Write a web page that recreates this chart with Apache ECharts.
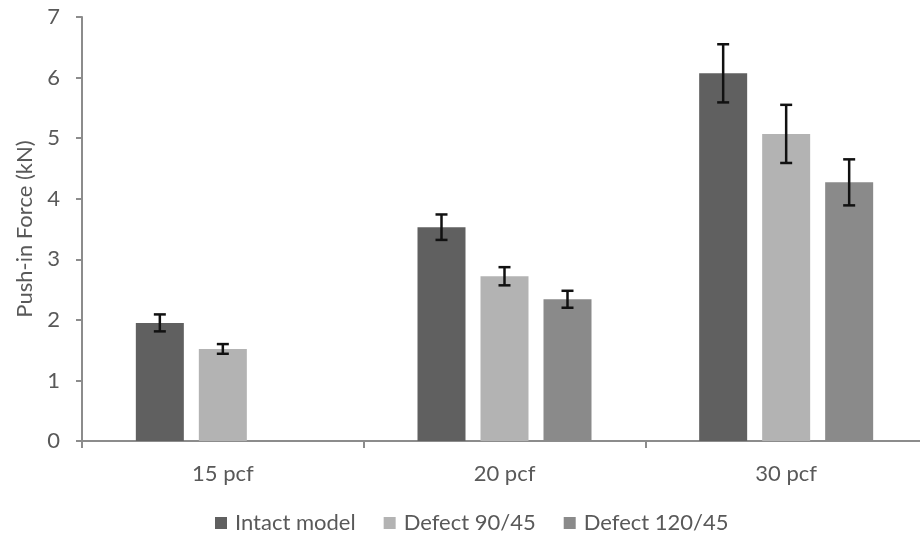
<!DOCTYPE html>
<html>
<head>
<meta charset="utf-8">
<script src="https://cdn.jsdelivr.net/npm/echarts@6/dist/echarts.min.js"></script>
<style>
  html, body { margin: 0; padding: 0; background: #fff; overflow: hidden; }
  /* canvas runs slightly past the right edge so the category axis continues off-frame */
  #chart { width: 930px; height: 540px; }
</style>
</head>
<body>
<div id="chart"></div>
<script>
// Push-in force by foam density, mean ± standard deviation
const categories = ['15 pcf', '20 pcf', '30 pcf'];
const seriesNames = ['Intact model', 'Defect 90/45', 'Defect 120/45'];
const intactMean = [1.95, 3.53, 6.07];
const intactSd = [0.14, 0.21, 0.48];
const defect90Mean = [1.52, 2.72, 5.07];
const defect90Sd = [0.08, 0.15, 0.48];
const defect120Mean = [null, 2.34, 4.27];
const defect120Sd = [null, 0.14, 0.38];
const yTicks = [0, 1, 2, 3, 4, 5, 6, 7];

const colors = ['#606060', '#b3b3b3', '#8a8a8a'];
const means = [intactMean, defect90Mean, defect120Mean];
const sds = [intactSd, defect90Sd, defect120Sd];

const BAR_W = 48;
const BAR_GAP = 15;
const FONT = 'Lato, "Open Sans", sans-serif';
const TXT = '#595959';

const barSeries = seriesNames.map((name, i) => ({
  name,
  type: 'bar',
  data: means[i],
  barWidth: BAR_W,
  barGap: (BAR_GAP / BAR_W * 100) + '%',
  itemStyle: { color: colors[i] },
  z: 2
}));

// Error whiskers drawn over each bar, offset by its slot in the group
const errSeries = seriesNames.map((name, i) => ({
  type: 'custom',
  name: name + ' sd',
  data: categories
    .map((c, k) => [k, means[i][k], sds[i][k]])
    .filter(d => d[1] != null)
    .map(d => [d[0], d[1] - d[2], d[1] + d[2]]),
  dimensions: ['cat', 'low', 'high'],
  z: 10,
  silent: true,
  renderItem: function (params, api) {
    const off = (i - 1) * (BAR_W + BAR_GAP);
    const lo = api.coord([api.value(0), api.value(1)]);
    const hi = api.coord([api.value(0), api.value(2)]);
    const x = lo[0] + off;
    const cap = 6;
    const st = { stroke: '#111', lineWidth: 2.5 };
    return {
      type: 'group',
      children: [
        { type: 'line', shape: { x1: x, y1: lo[1], x2: x, y2: hi[1] }, style: st },
        { type: 'line', shape: { x1: x - cap, y1: lo[1], x2: x + cap, y2: lo[1] }, style: st },
        { type: 'line', shape: { x1: x - cap, y1: hi[1], x2: x + cap, y2: hi[1] }, style: st }
      ]
    };
  },
  encode: { x: 0, y: [1, 2] }
}));

const chart = echarts.init(document.getElementById('chart'));
chart.setOption({
  animation: false,
  textStyle: { fontFamily: FONT },
  grid: { left: 82, width: 845, top: 17, height: 424 },
  legend: {
    data: seriesNames,
    bottom: 1,
    left: 210,
    itemWidth: 12,
    itemHeight: 12,
    itemGap: 28,
    icon: 'rect',
    textStyle: { fontFamily: FONT, fontSize: 22, color: TXT, padding: [0, 0, 0, 3] }
  },
  xAxis: {
    type: 'category',
    data: categories,
    axisLine: { lineStyle: { color: '#8c8c8c', width: 2 } },
    axisTick: { show: true, length: 7, lineStyle: { color: '#8c8c8c', width: 2 } },
    axisLabel: { fontFamily: FONT, fontSize: 22, color: TXT, margin: 22 }
  },
  yAxis: {
    type: 'value',
    min: yTicks[0],
    max: yTicks[yTicks.length - 1],
    interval: 1,
    name: 'Push-in Force (kN)',
    nameLocation: 'middle',
    nameGap: 46,
    nameTextStyle: { fontFamily: FONT, fontSize: 22, color: TXT },
    axisLine: { show: true, lineStyle: { color: '#8c8c8c', width: 2 } },
    axisTick: { show: true, length: 6, lineStyle: { color: '#8c8c8c', width: 2 } },
    axisLabel: { fontFamily: FONT, fontSize: 22, color: TXT, margin: 22 },
    splitLine: { show: false }
  },
  series: [...barSeries, ...errSeries]
});
</script>
</body>
</html>
